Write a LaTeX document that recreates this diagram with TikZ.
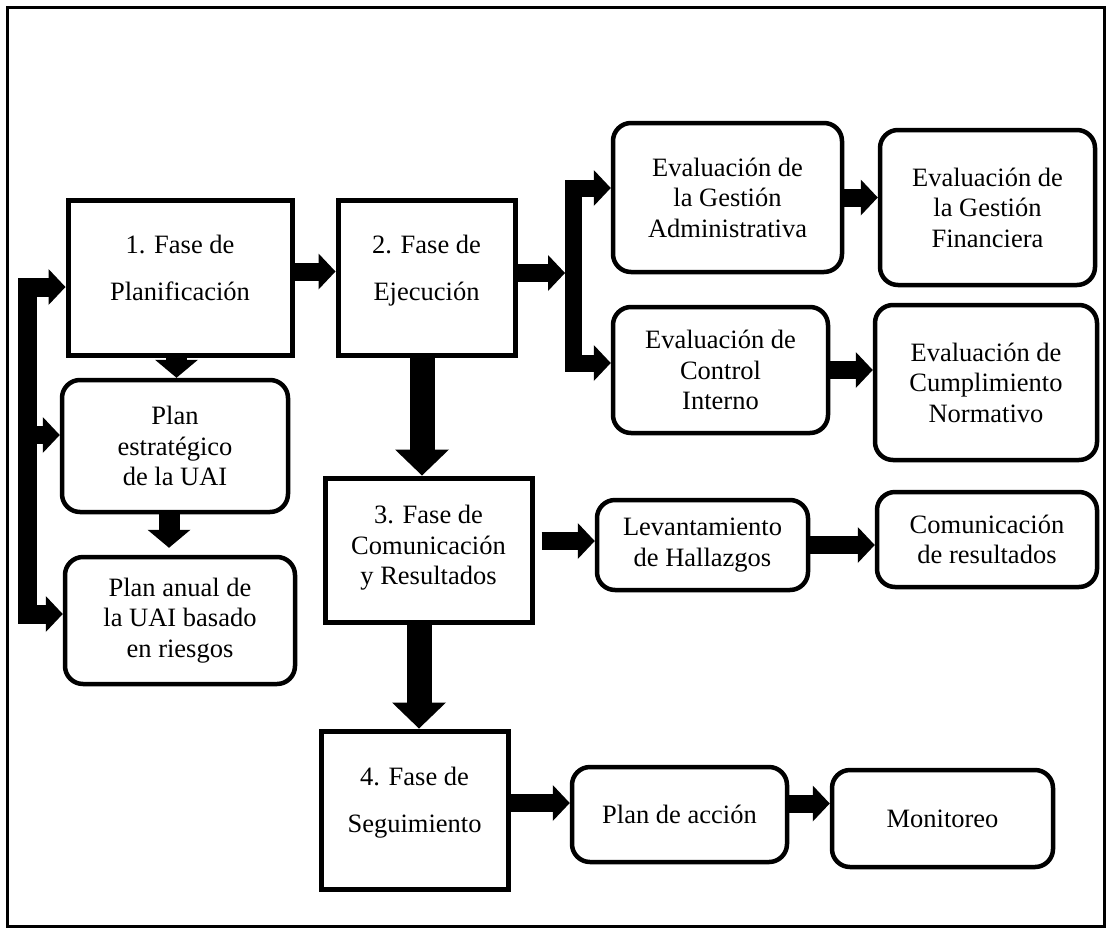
\documentclass[tikz,border=0pt]{standalone}
\usepackage{fontspec}
\setmainfont{Liberation Serif}
\usetikzlibrary{positioning,arrows.meta}

\begin{document}
\begin{tikzpicture}[x=1pt, y=-1pt, >={Triangle[width=36pt, length=17pt, line width=0pt]},
  every node/.style={font=\fontsize{26.5}{30.5}\selectfont, align=center, inner sep=0pt},
  fase/.style={draw, line width=5pt, font=\fontsize{26.5}{47}\selectfont, text depth=20pt},
  paso/.style={draw, line width=4.5pt, rounded corners=18pt},
  barrow/.style={line width=18pt, ->},
  midarrow/.style={line width=21pt, -{Triangle[width=43pt, length=18pt, line width=0pt]}},
  bigarrow/.style={line width=25pt, -{Triangle[width=54pt, length=26pt, line width=0pt]}}]

  \useasboundingbox (0,0) rectangle (1108,932);
  \draw[line width=3pt] (7.5,7.5) rectangle (1104,926);

  % fases
  \node[fase, minimum width=224pt, minimum height=155pt] (f1) at (180,277.5) {1. Fase de\\Planificación};
  \node[fase, minimum width=177pt, minimum height=155pt] (f2) at (426.5,277.5) {2. Fase de\\Ejecución};
  \node[fase, font=\fontsize{26.5}{30.5}\selectfont, text depth=10pt, minimum width=207pt, minimum height=144pt] (f3) at (428.5,550) {3. Fase de\\Comunicación\\y Resultados};
  \node[fase, minimum width=187pt, minimum height=158pt] (f4) at (414.5,810) {4. Fase de\\Seguimiento};

  % pasos
  \node[paso, minimum width=226pt, minimum height=132pt] (pe) at (175,446) {Plan\\estratégico\\de la UAI};
  \node[paso, minimum width=230pt, minimum height=127pt] (pa) at (180,620.5) {Plan anual de\\la UAI basado\\en riesgos};
  \node[paso, minimum width=229pt, minimum height=149pt] (ega) at (727.5,197.5) {Evaluación de\\la Gestión\\Administrativa};
  \node[paso, minimum width=215pt, minimum height=155pt] (egf) at (987.5,207.5) {Evaluación de\\la Gestión\\Financiera};
  \node[paso, minimum width=215pt, minimum height=126pt] (eci) at (720.5,370) {Evaluación de\\Control\\Interno};
  \node[paso, minimum width=222pt, minimum height=155pt] (ecn) at (986,382.5) {Evaluación de\\Cumplimiento\\Normativo};
  \node[paso, minimum width=211pt, minimum height=90pt] (lh) at (702.5,545) {Levantamiento\\de Hallazgos};
  \node[paso, minimum width=220pt, minimum height=95pt] (cr) at (987,539.5) {Comunicación\\de resultados};
  \node[paso, minimum width=215pt, minimum height=95pt] (pac) at (679.5,814.5) {Plan de acción};
  \node[paso, minimum width=221pt, minimum height=97pt] (mon) at (942.5,818.5) {Monitoreo};

  \coordinate (lbar) at (27.5,450);
  \coordinate (rbar) at (573.5,280);
  \coordinate (rin) at (565,273);

  \path[barrow]
    ([yshift=6pt]f1.east) edge ([yshift=6pt]f2.west)
    ([yshift=4.5pt]f2.east) edge (rin)
    (ega.east) edge (ega.east -| egf.west)
    (eci.east) edge (eci.east -| ecn.west)
    ([yshift=4pt]f3.east |- lh.west) edge [shorten <=7pt] ([yshift=4pt]lh.west)
    (lh.east) edge (lh.east -| cr.west)
    ([yshift=7pt]f4.east) edge ([yshift=7pt]f4.east -| pac.west)
    ([yshift=11pt]pac.east) edge ([yshift=11pt]pac.east -| mon.west)
    ([yshift=11pt]lbar |- pe.west) edge ([yshift=11pt]pe.west)
  ;
  \path[midarrow]
    ([xshift=-3.5pt]f1.south) edge ([xshift=-3.5pt]f1.south |- pe.north)
    ([xshift=-6pt]pe.south) edge [shorten >=7pt] ([xshift=-6pt]pe.south |- pa.north)
  ;
  \path[bigarrow]
    ([xshift=-4.5pt]f2.south) edge ([xshift=-4.5pt]f2.south |- f3.north)
    ([xshift=-9.5pt]f3.south) edge ([xshift=-9.5pt]f3.south |- f4.north)
  ;
  \draw[barrow, <->, line width=19pt] ([yshift=-9.5pt]f1.west) -| (lbar) |- ([yshift=6.5pt]pa.west);
  \draw[barrow, <->, line width=17pt] ([yshift=9.5pt]ega.west) -| (rbar) |- ([yshift=7pt]eci.west);
\end{tikzpicture}
\end{document}
